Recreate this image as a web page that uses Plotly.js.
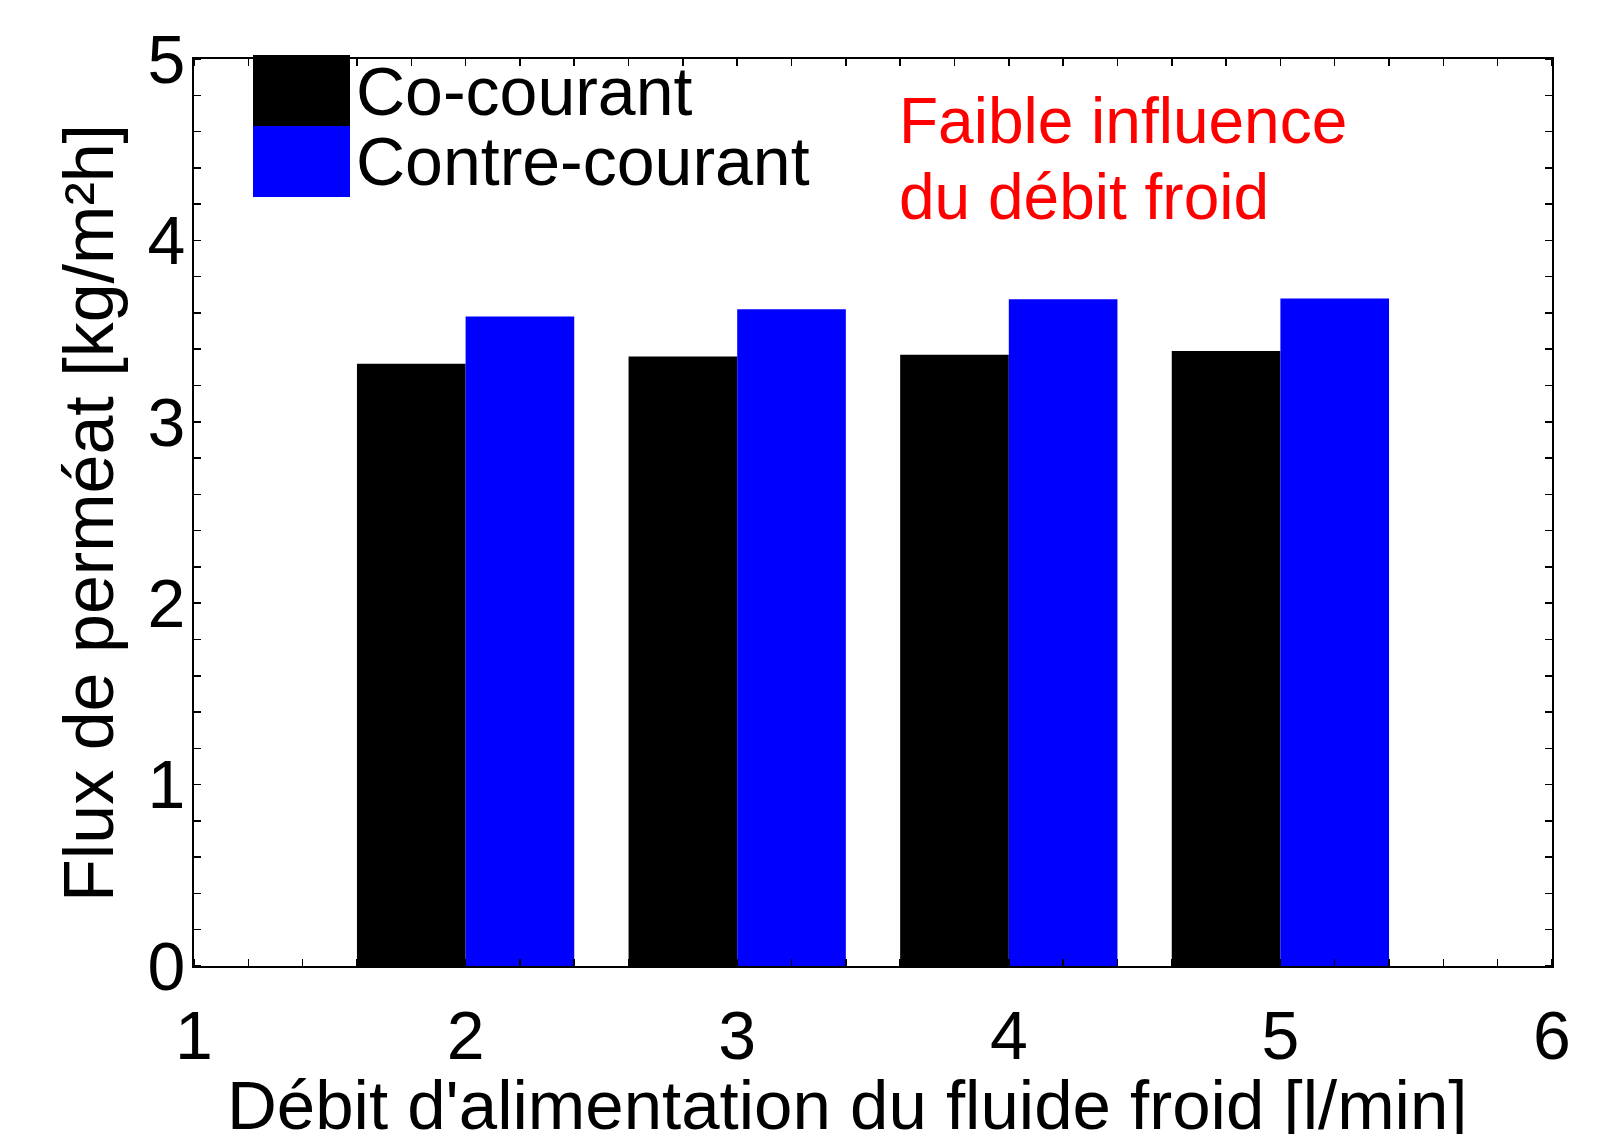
<!DOCTYPE html>
<html>
<head>
<meta charset="utf-8">
<script src="https://cdn.plot.ly/plotly-3.0.1.min.js"></script>
<style>
  html, body { margin: 0; padding: 0; background: #ffffff; }
  #chart { width: 1624px; height: 1134px; }
</style>
</head>
<body>
<div id="chart"></div>
<script>
// ---- data ----
const flowRates = [2, 3, 4, 5];                    // Débit d'alimentation du fluide froid [l/min]
const coCourant = [3.32, 3.36, 3.37, 3.39];        // Flux de perméat [kg/m²h]
const contreCourant = [3.58, 3.62, 3.675, 3.68];   // Flux de perméat [kg/m²h]
const seriesNames = ['Co-courant', 'Contre-courant'];
const seriesColors = ['#000000', '#0000ff'];
const xTickVals = [1, 2, 3, 4, 5, 6];
const yTickVals = [0, 1, 2, 3, 4, 5];
const xTitle = "Débit d'alimentation du fluide froid [l/min]";
const yTitle = 'Flux de perméat [kg/m²h]';
const noteLines = ['Faible influence', 'du débit froid'];

// ---- layout geometry (pixels) ----
const W = 1624, H = 1134;
const M = { l: 194, r: 72, t: 59, b: 168 };
const PW = W - M.l - M.r, PH = H - M.t - M.b;
const px2x = px => (px - M.l) / PW;
const py2y = py => (H - M.b - py) / PH;

const FONT = '"Liberation Sans", Arial, Helvetica, sans-serif';

const traces = [
  { type: 'bar', name: seriesNames[0], x: flowRates, y: coCourant,
    marker: { color: seriesColors[0], line: { width: 0 } }, showlegend: false },
  { type: 'bar', name: seriesNames[1], x: flowRates, y: contreCourant,
    marker: { color: seriesColors[1], line: { width: 0 } }, showlegend: false }
];

const axisCommon = {
  showline: true, linecolor: '#000000', linewidth: 2, mirror: 'ticks',
  showgrid: false, zeroline: false, ticks: '',
  tickfont: { family: FONT, size: 68, color: '#000000' },
  minor: { dtick: 0.2, ticks: 'inside', ticklen: 7, tickwidth: 1.5, tickcolor: '#000000', showgrid: false }
};

const layout = {
  width: W, height: H,
  margin: M,
  paper_bgcolor: '#ffffff', plot_bgcolor: '#ffffff',
  barmode: 'group', bargap: 0.2, bargroupgap: 0,
  showlegend: false,
  font: { family: FONT, color: '#000000' },
  xaxis: Object.assign({}, axisCommon, {
    range: [1, 6], tickmode: 'array', tickvals: xTickVals, ticktext: xTickVals.map(String),
    ticklabelstandoff: 9
  }),
  yaxis: Object.assign({}, axisCommon, {
    range: [0, 5], tickmode: 'array', tickvals: yTickVals, ticktext: yTickVals.map(String),
    ticklabelstandoff: -7
  }),
  shapes: [
    { type: 'rect', xref: 'paper', yref: 'paper', layer: 'above',
      x0: px2x(253), x1: px2x(350), y0: py2y(126), y1: py2y(55),
      fillcolor: seriesColors[0], line: { width: 0 } },
    { type: 'rect', xref: 'paper', yref: 'paper', layer: 'above',
      x0: px2x(253), x1: px2x(350), y0: py2y(197), y1: py2y(126),
      fillcolor: seriesColors[1], line: { width: 0 } }
  ],
  annotations: [
    // axis titles
    { xref: 'paper', yref: 'paper', x: px2x(846.5), y: py2y(1064.5), xanchor: 'center', yanchor: 'top',
      text: xTitle, showarrow: false, font: { family: FONT, size: 69, color: '#000000' } },
    { xref: 'paper', yref: 'paper', x: px2x(89), y: py2y(513), xanchor: 'center', yanchor: 'middle',
      textangle: -90, text: yTitle, showarrow: false, font: { family: FONT, size: 70, color: '#000000' } },
    // legend labels
    { xref: 'paper', yref: 'paper', x: px2x(354), y: py2y(51), xanchor: 'left', yanchor: 'top',
      text: seriesNames[0], showarrow: false, font: { family: FONT, size: 68, color: '#000000' } },
    { xref: 'paper', yref: 'paper', x: px2x(354), y: py2y(121), xanchor: 'left', yanchor: 'top',
      text: seriesNames[1], showarrow: false, font: { family: FONT, size: 68, color: '#000000' } },
    // note
    { xref: 'paper', yref: 'paper', x: px2x(897), y: py2y(82.8), xanchor: 'left', yanchor: 'top',
      text: noteLines[0], showarrow: false, font: { family: FONT, size: 64, color: '#ff0000' } },
    { xref: 'paper', yref: 'paper', x: px2x(897), y: py2y(159), xanchor: 'left', yanchor: 'top',
      text: noteLines[1], showarrow: false, font: { family: FONT, size: 64, color: '#ff0000' } }
  ]
};

Plotly.newPlot('chart', traces, layout, { displayModeBar: false, staticPlot: true });
</script>
</body>
</html>
